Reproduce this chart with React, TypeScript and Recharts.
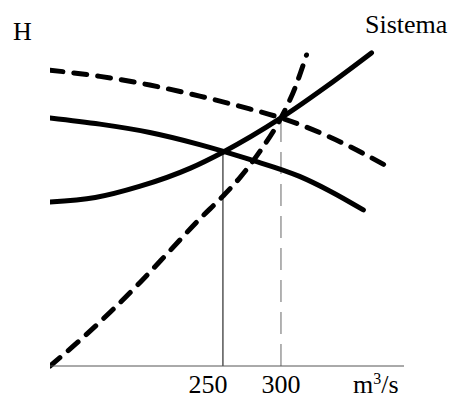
import { LineChart, Line, XAxis, YAxis } from 'recharts'

// caudal (m3/s) y altura H para cada curva
const bombaDashQ = [101, 144, 187, 230, 273, 300, 342, 391]
const bombaDashH = [85.5, 83.7, 81.2, 78.0, 74.3, 71.7, 66.2, 57.8]

const bombaQ = [101, 144, 187, 230, 273, 316, 342, 371]
const bombaH = [71.7, 69.9, 67.5, 64.0, 59.7, 54.8, 50.6, 45.1]

const sistemaQ = [101, 140, 178, 222, 250, 300, 340, 378]
const sistemaH = [47.4, 48.7, 51.9, 57.2, 61.8, 71.7, 81.0, 90.5]

const sistemaDashQ = [101, 127, 153, 179, 204, 230, 250, 265, 282, 300, 312, 322]
const sistemaDashH = [0, 7.5, 15.6, 24.3, 33.2, 42.5, 49.1, 54.6, 62.1, 71.7, 80.3, 89.9]

const xTicks = [250, 300]

const toRows = (q: number[], h: number[]) => q.map((x, i) => ({ q: x, h: h[i] }))

const font = '"Liberation Serif", "Times New Roman", serif'

// the 250 label sits just left of its line in the original
const QTick = (props: any) => {
  const { x, y, payload } = props
  const shift = payload.value === 250 ? -15 : 0
  return (
    <text x={x + shift} y={y} dy="0.71em" textAnchor="middle" fontSize={26} fontFamily={font} fill="#000">
      {payload.value}
    </text>
  )
}

export default function App() {
  return (
    <div style={{ position: 'absolute', left: 0, top: 0, width: 451, height: 399, background: '#fff' }}>
      <LineChart width={451} height={399} margin={{ top: 20, right: 47, bottom: 0, left: 50 }}>
        <XAxis
          type="number"
          dataKey="q"
          domain={[101, 406]}
          ticks={xTicks}
          height={33}
          tickSize={0}
          tickMargin={9}
          axisLine={{ stroke: '#555', strokeWidth: 1 }}
          tick={<QTick />}
          allowDataOverflow
        />
        <YAxis
          type="number"
          dataKey="h"
          domain={[0, 100]}
          width={0}
          tick={false}
          tickLine={false}
          axisLine={{ stroke: '#000', strokeWidth: 1 }}
        />
        <Line
          data={toRows([250, 250], [0, 61.8])}
          dataKey="h"
          stroke="#000"
          strokeWidth={1}
          dot={false}
          isAnimationActive={false}
        />
        <Line
          data={toRows([300, 300], [0, 71.7])}
          dataKey="h"
          stroke="#666"
          strokeWidth={1}
          strokeDasharray="22 10"
          dot={false}
          isAnimationActive={false}
        />
        <Line
          data={toRows(bombaDashQ, bombaDashH)}
          dataKey="h"
          type="monotone"
          stroke="#000"
          strokeWidth={5}
          strokeDasharray="13 11"
          strokeLinecap="round"
          dot={false}
          isAnimationActive={false}
        />
        <Line
          data={toRows(bombaQ, bombaH)}
          dataKey="h"
          type="monotone"
          stroke="#000"
          strokeWidth={5}
          strokeLinecap="round"
          dot={false}
          isAnimationActive={false}
        />
        <Line
          data={toRows(sistemaQ, sistemaH)}
          dataKey="h"
          type="monotone"
          stroke="#000"
          strokeWidth={5}
          strokeLinecap="round"
          dot={false}
          isAnimationActive={false}
        />
        <Line
          data={toRows(sistemaDashQ, sistemaDashH)}
          dataKey="h"
          type="monotone"
          stroke="#000"
          strokeWidth={5}
          strokeDasharray="13 11"
          strokeLinecap="round"
          dot={false}
          isAnimationActive={false}
        />
      </LineChart>
      <svg
        width={451}
        height={399}
        style={{ position: 'absolute', left: 0, top: 0, pointerEvents: 'none' }}
      >
        <text x={13} y={40} fontSize={26} fontFamily={font} fill="#000">H</text>
        <text x={365} y={33} fontSize={26} fontFamily={font} fill="#000">Sistema</text>
        <text x={353} y={393} fontSize={26} fontFamily={font} fill="#000">
          m<tspan dy={-9} fontSize={16}>3</tspan>
          <tspan dy={9}>/s</tspan>
        </text>
      </svg>
    </div>
  )
}
